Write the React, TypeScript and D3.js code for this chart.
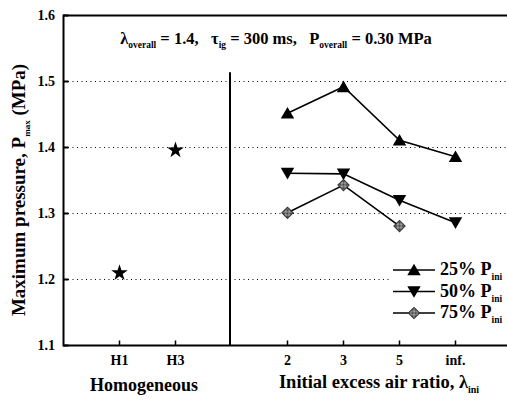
import React from "react";
import * as d3 from "d3";

const homoCats = ["H1", "H3"];
const homoValues = [1.21, 1.396];
const stratCats = ["2", "3", "5", "inf."];
const series25 = [1.452, 1.492, 1.411, 1.386];
const series50 = [1.361, 1.36, 1.32, 1.286];
const series75 = [1.301, 1.343, 1.281];
const yTicks = [1.1, 1.2, 1.3, 1.4, 1.5, 1.6];
const gridVals = [1.2, 1.3, 1.4, 1.5];
const homoPos = [1, 2];
const dividerPos = 3;
const stratPos = [4, 5, 6, 7];

const FONT = "'Liberation Serif', 'Times New Roman', serif";
const NB = "\u00a0";

export default function App() {
  const W = 507, H = 403;
  const x = d3.scaleLinear().domain([0, 8]).range([63.5, 511.5]);
  const y = d3.scaleLinear().domain([1.1, 1.6]).range([345.5, 15.5]);
  const line = d3.line<[number, number]>().x(d => x(d[0])).y(d => y(d[1]));
  const star = d3.symbol().type(d3.symbolStar).size(85)()!;
  const tri = d3.symbol().type(d3.symbolTriangle).size(78)()!;
  const sq = d3.symbol().type(d3.symbolSquare).size(64)()!;

  const mk = (kind: string, cx: number, cy: number, key: string) => {
    if (kind === "up") return <path key={key} d={tri} transform={`translate(${cx},${cy + 1.5})`} fill="#000" />;
    if (kind === "down") return <path key={key} d={tri} transform={`translate(${cx},${cy - 1.5}) rotate(180)`} fill="#000" />;
    return <path key={key} d={sq} transform={`translate(${cx},${cy}) rotate(45)`} fill="url(#chk)" stroke="#333" strokeWidth={1} />;
  };

  const seriesList = [
    { vals: series25, kind: "up", label: "25% P" },
    { vals: series50, kind: "down", label: "50% P" },
    { vals: series75, kind: "diamond", label: "75% P" },
  ];

  const sub = (t: string, size: number, d = 4) => (
    <tspan fontSize={size} dy={d}>{t}</tspan>
  );
  const back = (t: string, size: number, d = 4) => <tspan fontSize={size} dy={-d}>{t}</tspan>;

  return (
    <svg width={W} height={H} style={{ display: "block", position: "absolute", left: 0, top: 0, background: "#fff" }} fontFamily={FONT} fontWeight="bold">
      <defs>
        <pattern id="chk" width="2" height="2" patternUnits="userSpaceOnUse">
          <rect width="2" height="2" fill="#bbb" />
          <rect width="1" height="1" fill="#333" />
          <rect x="1" y="1" width="1" height="1" fill="#333" />
        </pattern>
      </defs>
      <rect width={W} height={H} fill="#fff" />
      {gridVals.map(v => (
        <line key={v} x1={x(0)} x2={W} y1={y(v)} y2={y(v)} stroke="#000" strokeWidth={1} strokeDasharray="1,3.5" />
      ))}
      <line x1={x(0)} x2={W} y1={y(1.6)} y2={y(1.6)} stroke="#000" strokeWidth={2} />
      <line x1={x(0)} x2={W} y1={y(1.1)} y2={y(1.1)} stroke="#000" strokeWidth={2} />
      <line x1={x(0)} x2={x(0)} y1={y(1.6) - 1} y2={y(1.1) + 1} stroke="#000" strokeWidth={2} />
      <line x1={x(dividerPos) - 1.5} x2={x(dividerPos) - 1.5} y1={y(1.514)} y2={y(1.1)} stroke="#000" strokeWidth={2} />
      {yTicks.map(v => (
        <g key={v}>
          <line x1={x(0)} x2={x(0) + 5} y1={y(v)} y2={y(v)} stroke="#000" strokeWidth={2} />
          <text x={55} y={y(v)} dy="0.35em" textAnchor="end" fontSize={14}>{v.toFixed(1)}</text>
        </g>
      ))}
      {homoCats.map((c, i) => (
        <g key={c}>
          <line x1={x(homoPos[i])} x2={x(homoPos[i])} y1={y(1.1)} y2={y(1.1) - 5} stroke="#000" strokeWidth={1.5} />
          <text x={x(homoPos[i])} y={365} textAnchor="middle" fontSize={14}>{c}</text>
        </g>
      ))}
      {stratCats.map((c, i) => (
        <g key={c}>
          <line x1={x(stratPos[i])} x2={x(stratPos[i])} y1={y(1.1)} y2={y(1.1) - 5} stroke="#000" strokeWidth={1.5} />
          <text x={x(stratPos[i])} y={365} textAnchor="middle" fontSize={14}>{c}</text>
        </g>
      ))}
      {homoValues.map((v, i) => (
        <path key={i} d={star} transform={`translate(${x(homoPos[i])},${y(v)})`} fill="#000" />
      ))}
      {seriesList.map((s, si) => (
        <g key={si}>
          <path d={line(s.vals.map((v, i) => [stratPos[i], v] as [number, number]))!} fill="none" stroke="#000" strokeWidth={1.6} />
          {s.vals.map((v, i) => mk(s.kind, x(stratPos[i]), y(v), `${si}-${i}`))}
        </g>
      ))}
      <rect x={389} y={258} width={118} height={68} fill="#fff" />
      {seriesList.map((s, i) => {
        const ly = 270 + i * 21.5;
        return (
          <g key={i}>
            <line x1={393} x2={435} y1={ly} y2={ly} stroke="#000" strokeWidth={1.6} />
            {mk(s.kind, 414, ly, `l${i}`)}
            <text x={440} y={ly + 5} fontSize={18}>
              {s.label}
              {sub("ini", 9.5, 5)}
            </text>
          </g>
        );
      })}
      <text x={276} y={44} textAnchor="middle" fontSize={16.5}>
        λ{sub("overall", 9.5)}{back(`${NB}=${NB}1.4,${NB}${NB}${NB}τ`, 16.5)}{sub("ig", 9.5)}{back(`${NB}=${NB}300${NB}ms,${NB}${NB}${NB}P`, 16.5)}{sub("overall", 9.5)}{back(`${NB}=${NB}0.30${NB}MPa`, 16.5)}
      </text>
      <text x={144} y={391} textAnchor="middle" fontSize={18}>Homogeneous</text>
      <text x={379} y={388} textAnchor="middle" fontSize={18.5}>
        Initial excess air ratio, λ{sub("ini", 10, 5)}
      </text>
      <text transform={`translate(25,190) rotate(-90)`} textAnchor="middle" fontSize={19}>
        Maximum pressure, P{sub("max", 9, 5)}{back(`${NB}(MPa)`, 19, 5)}
      </text>
    </svg>
  );
}
